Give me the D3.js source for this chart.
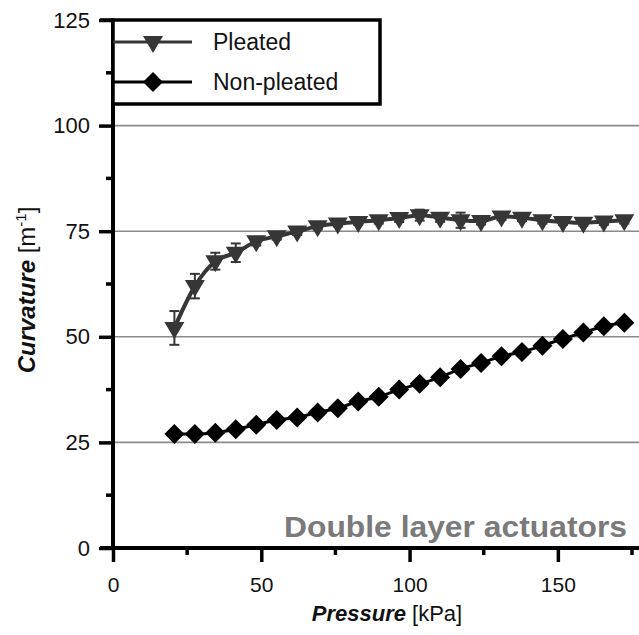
<!DOCTYPE html>
<html>
<head>
<meta charset="utf-8">
<script src="https://cdn.jsdelivr.net/npm/d3@7"></script>
<style>
  body { margin: 0; background: #fff; }
  svg { font-family: "Liberation Sans", Arial, sans-serif; }
</style>
</head>
<body>
<svg id="chart" width="639" height="635"></svg>
<script>
/* Pressure steps (kPa), 3..25 psi in 1 psi steps */
const pressure = [20.7, 27.6, 34.5, 41.4, 48.3, 55.2, 62.1, 69.0, 75.8, 82.7, 89.6, 96.5,
    103.4, 110.3, 117.2, 124.1, 131.0, 137.9, 144.8, 151.7, 158.6, 165.5, 172.4];

const pleated = [52.1, 62.0, 67.9, 69.9, 72.6, 73.8, 74.9, 76.2, 76.8, 77.2, 77.6, 78.1,
    78.8, 78.2, 77.6, 77.4, 78.5, 78.2, 77.6, 77.2, 77.0, 77.3, 77.6];
const pleatedErr = [4.0, 2.9, 2.0, 2.2, 1.0, 0.8, 0.8, 0.8, 0.7, 0.7, 0.8, 0.9,
    1.3, 1.0, 1.8, 0.8, 0.9, 0.8, 0.8, 0.7, 0.7, 0.8, 0.8];

const nonPleated = [27.0, 27.0, 27.3, 28.1, 29.2, 30.3, 30.9, 32.1, 33.1, 34.7, 35.8, 37.5,
    38.9, 40.4, 42.4, 43.8, 45.4, 46.4, 47.9, 49.5, 51.0, 52.5, 53.3];

const xTicks = [0, 50, 100, 150];
const xMinor = [25, 75, 125, 175];
const yTicks = [0, 25, 50, 75, 100, 125];
const yMinor = [12.5, 37.5, 62.5, 87.5, 112.5];
const gridValues = [25, 50, 75, 100];

const svg = d3.select("#chart");

const xScale = d3.scaleLinear().domain([0, 175]).range([113, 632]);
const yScale = d3.scaleLinear().domain([0, 125]).range([548, 20]);

const pleatedData = pressure.map((p, i) => ({ x: p, y: pleated[i], e: pleatedErr[i] }));
const nonPleatedData = pressure.map((p, i) => ({ x: p, y: nonPleated[i] }));

/* grid lines */
svg.selectAll(".grid")
    .data(gridValues)
    .enter().append("line")
    .attr("x1", xScale(0))
    .attr("x2", 639)
    .attr("y1", d => yScale(d))
    .attr("y2", d => yScale(d))
    .style("stroke", "#8a8a8a")
    .style("stroke-width", 1.6);

/* y axis */
const yAxis = svg.append("g")
    .attr("transform", `translate(${xScale(0)},0)`)
    .call(d3.axisLeft(yScale).tickValues(yTicks).tickSize(14).tickPadding(9).tickSizeOuter(0));
yAxis.select(".domain").remove();
yAxis.selectAll(".tick line").style("stroke", "#000").style("stroke-width", 3.5);
yAxis.selectAll(".tick text").style("font-size", "22px").style("fill", "#111");

yAxis.selectAll(".minor")
    .data(yMinor)
    .enter().append("line")
    .attr("x1", -7).attr("x2", 0)
    .attr("y1", d => yScale(d)).attr("y2", d => yScale(d))
    .style("stroke", "#000").style("stroke-width", 3.5);

svg.append("line")
    .attr("x1", xScale(0)).attr("x2", xScale(0))
    .attr("y1", yScale(125) - 1.5).attr("y2", yScale(0) + 2)
    .style("stroke", "#000").style("stroke-width", 4);

/* x axis */
const xAxis = svg.append("g")
    .attr("transform", `translate(0,${yScale(0)})`)
    .call(d3.axisBottom(xScale).tickValues(xTicks).tickSize(14).tickPadding(15).tickSizeOuter(0));
xAxis.select(".domain").remove();
xAxis.selectAll(".tick line").style("stroke", "#000").style("stroke-width", 3.5);
xAxis.selectAll(".tick text").style("font-size", "21px").style("fill", "#111");

xAxis.selectAll(".minor")
    .data(xMinor)
    .enter().append("line")
    .attr("x1", d => xScale(d)).attr("x2", d => xScale(d))
    .attr("y1", 0).attr("y2", 7)
    .style("stroke", "#000").style("stroke-width", 3.5);

svg.append("line")
    .attr("x1", 100).attr("x2", 639)
    .attr("y1", yScale(0)).attr("y2", yScale(0))
    .style("stroke", "#000").style("stroke-width", 4);

/* axis titles */
const yTitle = svg.append("text")
    .attr("transform", "translate(35,290) rotate(-90)")
    .attr("text-anchor", "middle")
    .style("font-size", "24px")
    .style("fill", "#111");
yTitle.append("tspan").text("Curvature").style("font-weight", "bold").style("font-style", "italic");
yTitle.append("tspan").text(" [m");
yTitle.append("tspan").text("-1").attr("dy", -9).style("font-size", "15px");
yTitle.append("tspan").text("]").attr("dy", 9);

const xTitle = svg.append("text")
    .attr("x", 387)
    .attr("y", 621)
    .attr("text-anchor", "middle")
    .style("font-size", "22px")
    .style("fill", "#111");
xTitle.append("tspan").text("Pressure").style("font-weight", "bold").style("font-style", "italic");
xTitle.append("tspan").text(" [kPa]");

/* annotation */
svg.append("text")
    .attr("x", 284)
    .attr("y", 537)
    .attr("textLength", 343)
    .attr("lengthAdjust", "spacingAndGlyphs")
    .style("font-size", "29px")
    .style("font-weight", "bold")
    .style("fill", "#7a7a7a")
    .text("Double layer actuators");

/* series lines */
const line = d3.line()
    .x(d => xScale(d.x))
    .y(d => yScale(d.y))
    .curve(d3.curveMonotoneX);

svg.append("path")
    .datum(nonPleatedData)
    .attr("d", line)
    .style("fill", "none")
    .style("stroke", "#000")
    .style("stroke-width", 3);

svg.append("path")
    .datum(pleatedData)
    .attr("d", line)
    .style("fill", "none")
    .style("stroke", "#363636")
    .style("stroke-width", 4);

/* error bars for pleated */
const errG = svg.append("g").style("stroke", "#363636").style("stroke-width", 2);
pleatedData.forEach(d => {
    const cx = xScale(d.x);
    errG.append("line")
        .attr("x1", cx).attr("x2", cx)
        .attr("y1", yScale(d.y + d.e)).attr("y2", yScale(d.y - d.e));
    [d.y + d.e, d.y - d.e].forEach(v => {
        errG.append("line")
            .attr("x1", cx - 5).attr("x2", cx + 5)
            .attr("y1", yScale(v)).attr("y2", yScale(v));
    });
});

/* markers */
const triangle = "M-10,-6 L10,-6 L0,11 Z";
const diamond = "M0,-10 L10,0 L0,10 L-10,0 Z";

svg.selectAll(".tri")
    .data(pleatedData)
    .enter().append("path")
    .attr("class", "tri")
    .attr("d", triangle)
    .attr("transform", d => `translate(${xScale(d.x)},${yScale(d.y)})`)
    .style("fill", "#363636");

svg.selectAll(".dia")
    .data(nonPleatedData)
    .enter().append("path")
    .attr("class", "dia")
    .attr("d", diamond)
    .attr("transform", d => `translate(${xScale(d.x)},${yScale(d.y)})`)
    .style("fill", "#000");

/* legend */
const legend = svg.append("g");
legend.append("rect")
    .attr("x", xScale(0))
    .attr("y", yScale(125))
    .attr("width", 380 - xScale(0))
    .attr("height", 84)
    .style("fill", "#fff")
    .style("stroke", "#000")
    .style("stroke-width", 3.5);

const legendItems = [
    { label: "Pleated", shape: triangle, color: "#363636", y: 42 },
    { label: "Non-pleated", shape: diamond, color: "#000", y: 82 }
];
legendItems.forEach(item => {
    legend.append("line")
        .attr("x1", xScale(0)).attr("x2", 192)
        .attr("y1", item.y).attr("y2", item.y)
        .style("stroke", item.color).style("stroke-width", 3);
    legend.append("path")
        .attr("d", item.shape)
        .attr("transform", `translate(153,${item.y})`)
        .style("fill", item.color);
    legend.append("text")
        .attr("x", 213)
        .attr("y", item.y + 8)
        .style("font-size", "23px")
        .style("fill", "#111")
        .text(item.label);
});

svg.append("line")
    .attr("x1", 100).attr("x2", xScale(0))
    .attr("y1", yScale(125)).attr("y2", yScale(125))
    .style("stroke", "#000").style("stroke-width", 3.5);
</script>
</body>
</html>
